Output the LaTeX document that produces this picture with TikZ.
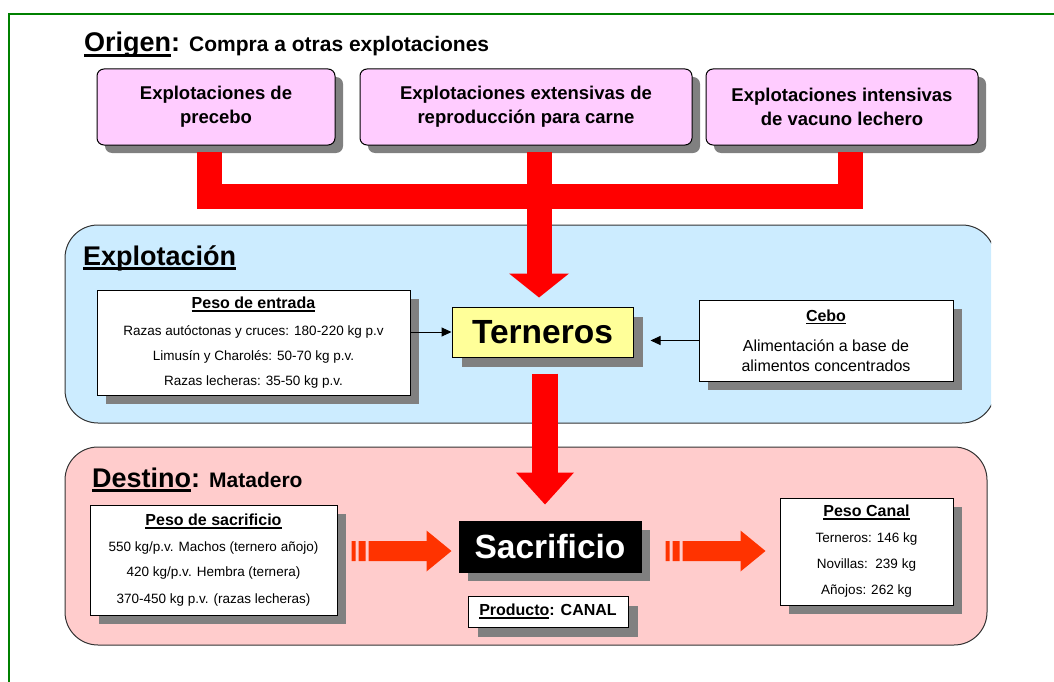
\documentclass[tikz,border=0pt]{standalone}
\usepackage{fontspec}
\setmainfont{Liberation Sans}
\usetikzlibrary{arrows.meta,calc,shadows}

\definecolor{framegreen}{RGB}{0,128,0}
\definecolor{panelblue}{RGB}{204,236,255}
\definecolor{panelpink}{RGB}{255,204,204}
\definecolor{boxpink}{RGB}{255,204,255}
\definecolor{boxyellow}{RGB}{255,255,153}
\definecolor{shadowgray}{RGB}{128,128,128}
\definecolor{feedred}{RGB}{255,0,0}
\definecolor{sidered}{RGB}{255,51,0}

\newcommand{\ulined}[1]{\setbox0=\hbox{#1}\rlap{\raisebox{-0.2em}{\rule{\wd0}{0.11em}}}\box0}
\newcommand{\hdrfont}{\fontsize{16}{20}\selectfont\bfseries}

\tikzset{
	boxshadow/.style={drop shadow={shadow xshift=#1, shadow yshift=-#1, fill=shadowgray, opacity=1}},
	origbox/.style={draw, line width=1pt, rounded corners=7pt, fill=boxpink, boxshadow=8pt, align=center, minimum height=76pt, font=\fontsize{18.5}{24}\selectfont\bfseries},
	infobox/.style={draw, line width=1pt, fill=white, boxshadow=9pt, align=center, inner sep=0pt, font=\fontsize{13.5}{25}\selectfont},
	headline/.style={anchor=base west, inner sep=0pt, font=\fontsize{27}{30}\selectfont\bfseries},
	panel/.style={draw=black!80, line width=1pt, rounded corners=33pt},
	feed/.style={draw=feedred, line width=25pt},
	thinarrow/.style={line width=1pt, -{Triangle[length=10pt,width=9pt]}},
	stripearrow/.pic={
		\fill[sidered] (0,-10) rectangle (4,10) (7,-10) rectangle (14,10) (17,-10) rectangle (75.5,10);
		\fill[sidered] (75,-20.5) -- (100,0) -- (75,20.5) -- cycle;
	}
}

\begin{document}
\begin{tikzpicture}[x=1pt,y=-1pt]
	\useasboundingbox (0,0) rectangle (1054,682);
	\draw[framegreen, line width=2pt] (9,700) -- (9,14) -- (1070,14);

	\begin{scope}
		\clip (0,0) rectangle (991,682);
		\draw[panel, fill=panelblue] (65,225) rectangle (995,423);
	\end{scope}
	\draw[panel, fill=panelpink] (65,447) rectangle (987,645);

	\node[headline] (origen) at (84,52) {\ulined{Origen}:\hspace{9pt}{\fontsize{21}{24}\selectfont Compra a otras explotaciones}};
	\node[headline] (explot) at (83,265) {\ulined{Explotación}};
	\node[headline] (destino) at (92,487) {\ulined{Destino}:\hspace{9pt}{\fontsize{21}{24}\selectfont Matadero}};

	\node[origbox, minimum width=238pt] (o1) at (216,107) {Explotaciones de\\precebo};
	\node[origbox, minimum width=332pt] (o2) at (526,107) {Explotaciones extensivas de\\reproducción para carne};
	\node[origbox, minimum width=272pt] (o3) at (842,107) {Explotaciones intensivas\\de vacuno lechero};

	\node[draw, line width=1pt, fill=boxyellow, boxshadow=10pt, minimum width=181pt, minimum height=50pt, font=\fontsize{33.5}{36}\selectfont\bfseries] (terneros) at (542.5,332) {Terneros};
	\node[infobox, minimum width=313pt, minimum height=105pt] (entrada) at (253.5,342.5) {{\hdrfont\ulined{Peso de entrada}}\\[2pt] Razas autóctonas y cruces: 180-220 kg p.v\\ Limusín y Charolés: 50-70 kg p.v.\\ Razas lecheras: 35-50 kg p.v.};
	\node[infobox, minimum width=254pt, minimum height=81pt, font=\fontsize{16}{20}\selectfont] (cebo) at (826,340.5) {{\bfseries\ulined{Cebo}}\\[10pt] Alimentación a base de\\ alimentos concentrados};

	\node[draw, fill=black, line width=1pt, text=white, boxshadow=9pt, minimum width=182pt, minimum height=51pt, font=\fontsize{33.5}{36}\selectfont\bfseries] (sacrificio) at (550,546.5) {Sacrificio};
	\node[draw, line width=1pt, fill=white, boxshadow=10pt, minimum width=160pt, minimum height=31pt, font=\fontsize{16}{20}\selectfont\bfseries] (producto) at (548,611.5) {\ulined{Producto}: CANAL};
	\node[infobox, minimum width=247pt, minimum height=110pt] (pesosac) at (213.5,560) {{\hdrfont\ulined{Peso de sacrificio}}\\[1pt] 550 kg/p.v. Machos (ternero añojo)\\ 420 kg/p.v. Hembra (ternera)\\[2pt] 370-450 kg p.v. (razas lecheras)};
	\node[infobox, minimum width=173pt, minimum height=107pt, font=\fontsize{13.5}{26}\selectfont] (canal) at (866.5,551.5) {{\hdrfont\ulined{Peso Canal}}\\ Terneros: 146 kg\\ Novillas:\ \ 239 kg\\ Añojos: 262 kg};

	\coordinate (s1) at ($(o1.south)+(-7,6)$);
	\coordinate (s2) at ($(o2.south)+(13,6)$);
	\coordinate (s3) at ($(o3.south)+(8,6)$);
	\coordinate (join) at ($(s2)+(0,45)$);
	\coordinate (tipA) at ($(join |- terneros.north)+(0,-9)$);
	\draw[feed] (s1) |- (join) -| (s3);
	\draw[feed] (s2) -- (join) -- ($(tipA)+(0,-23)$);
	\fill[feedred] ($(tipA)+(-30,-24)$) -- (tipA) -- ($(tipA)+(30,-24)$) -- cycle;

	\coordinate (downstart) at ($(terneros.south)+(2.5,16)$);
	\coordinate (tipB) at ($(sacrificio.north)+(-5,-16)$);
	\draw[feed, line width=26pt] (downstart) -- ($(tipB)+(0,-31)$);
	\fill[feedred] ($(tipB)+(-29,-32)$) -- (tipB) -- ($(tipB)+(29,-32)$) -- cycle;

	\draw[thinarrow] (entrada.east |- terneros.west) -- (terneros.west);
	\draw[thinarrow] (cebo.west) -- ($(terneros.east |- cebo.west)+(17,0)$);

	\pic at ($(sacrificio.west)+(-107,4.5)$) {stripearrow};
	\pic at ($(sacrificio.east)+(24,4.5)$) {stripearrow};
\end{tikzpicture}
\end{document}
